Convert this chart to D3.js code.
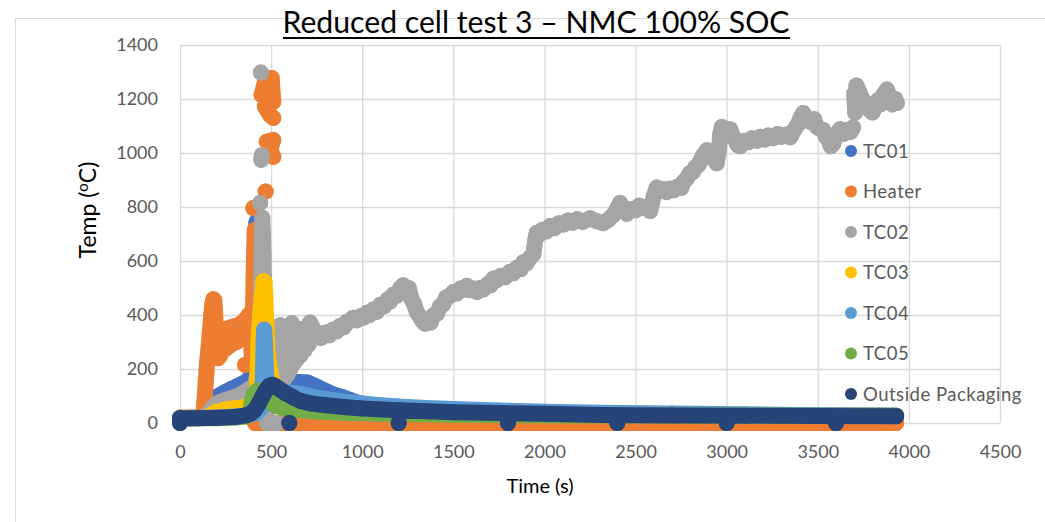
<!DOCTYPE html>
<html>
<head>
<meta charset="utf-8">
<title>Reduced cell test 3</title>
<script src="https://d3js.org/d3.v7.min.js"></script>
<style>
  body { margin: 0; background: #fff; }
  text { font-family: Lato, "Open Sans", sans-serif; }
</style>
</head>
<body>
<div id="chart"></div>
<script>
// series, in Excel drawing order
const seriesNames = ['TC01', 'Heater', 'TC02', 'TC03', 'TC04', 'TC05', 'Outside Packaging'];
const seriesColors = ['#4472C4', '#ED7D31', '#A5A5A5', '#FFC000', '#5B9BD5', '#70AD47', '#264478'];

const xTicks = [0, 500, 1000, 1500, 2000, 2500, 3000, 3500, 4000, 4500];
const yTicks = [0, 200, 400, 600, 800, 1000, 1200, 1400];

// [time (s), temp (C)]; null breaks a run of markers
const tc01 = [[0,18],[60,18],[120,19],[140,26],[155,50],[170,72],[185,88],[200,96],[225,106],[250,115],[280,125],[310,135],[350,148],[380,159],[392,190],
  [398,260],[403,380],[407,500],[411,600],[414,660],[417,720],[420,745],[424,690],[428,560],[432,420],[436,300],[441,200],[448,140],[460,125],
  [480,124],[520,132],[560,140],[600,146],[650,152],[700,150],[750,135],[800,118],[840,106],[890,96],[930,86],[970,76],[1000,70],[1100,62],
  [1200,55],[1400,47],[1600,42],[1800,38],[2000,35],[2300,32],[2700,30],[3100,29],[3500,28],[3930,27]];

const heater = [[0,20],[60,20],[120,21],[128,35],[133,70],[137,110],[141,150],[145,190],[149,225],[153,255],[158,290],[163,330],[168,370],
  [173,410],[178,440],[183,458],[188,455],[192,420],[196,360],[200,250],[205,340],[210,240],[215,330],[220,250],[225,335],[232,265],
  [240,345],[250,275],[260,350],[270,285],[280,355],[290,295],[300,358],[310,300],[320,362],[330,310],[340,372],[350,322],[360,385],
  [370,340],[378,400],[385,380],[390,300],[395,225],[398,300],[401,420],[404,540],[407,640],[410,715],null,
  [402,796],null,
  [357,215],null,
  [470,857],null,
  [448,1215],[466,1263],[503,1278],[512,1190],[494,1209],[466,1172],[494,1141],[512,1130],null,
  [476,1042],[512,1048],[494,1011],[512,986],[480,1000],null,
  [412,0],[600,0],[1000,0],[1500,0],[2000,0],[2500,0],[3000,0],[3500,0],[3930,0]];

const tc02 = [[0,18],[60,18],[120,19],[140,24],[160,40],[180,58],[200,71],[225,79],[250,85],[280,92],[310,98],[350,112],[380,126],[410,140],
  [425,180],[435,300],[445,500],[450,700],[452,760],[455,700],[458,620],[461,520],[463,420],[465,320],[467,230],[469,150],[471,80],[474,20],
  [478,0],[505,0],[532,0],null,
  [440,815],null,
  [446,975],[449,992],null,
  [444,1298],null,
  [484,80],[490,250],[496,105],[503,290],[510,115],[518,310],[526,125],[534,330],[542,135],[550,362],[558,150],[566,320],[574,165],[582,340],
  [590,180],[598,360],[606,200],[614,370],[622,220],[630,340],[640,235],[650,320],[660,250],[672,348],[684,270],[695,352],[705,290],
  [713,372],[730,350],[745,338],[760,330],[772,315],[786,322],[800,335],[820,325],[840,345],[860,340],[880,360],[900,355],[915,375],
  [933,378],[950,390],[970,380],[990,395],[1006,390],[1025,408],[1040,400],[1060,420],[1080,412],[1100,438],[1120,432],[1140,458],
  [1153,450],[1170,475],[1190,472],[1210,500],[1225,510],[1240,495],[1255,500],[1270,460],[1285,440],[1300,410],[1315,395],[1330,378],
  [1345,368],[1360,380],[1375,372],[1390,398],[1410,405],[1427,432],[1445,440],[1460,465],[1480,470],[1500,485],[1520,480],[1540,498],
  [1560,495],[1574,508],[1590,492],[1610,498],[1630,485],[1647,500],[1665,495],[1690,515],[1705,510],[1720,535],[1740,530],[1760,545],
  [1785,540],[1811,560],[1830,555],[1850,575],[1870,570],[1884,595],[1900,590],[1920,612],[1939,625],[1950,680],[1958,705],[1975,700],
  [1990,715],[2010,710],[2031,730],[2055,722],[2080,740],[2105,735],[2130,750],[2155,742],[2180,755],[2210,745],[2250,758],[2285,748],
  [2322,740],[2350,752],[2380,772],[2400,795],[2415,815],[2435,790],[2452,775],[2475,792],[2500,788],[2520,805],[2543,798],[2565,795],
  [2580,785],[2600,840],[2616,872],[2635,858],[2650,866],[2670,855],[2689,868],[2710,862],[2730,875],[2750,870],[2762,892],[2780,905],
  [2799,926],[2815,930],[2830,948],[2845,955],[2854,968],[2870,990],[2891,1010],[2905,995],[2920,985],[2935,975],[2945,962],[2955,1000],
  [2965,1070],[2973,1096],[2990,1090],[3005,1075],[3019,1088],[3035,1060],[3050,1045],[3060,1030],[3074,1025],[3095,1045],[3120,1040],
  [3140,1055],[3165,1045],[3185,1060],[3210,1050],[3230,1065],[3256,1055],[3280,1070],[3300,1060],[3325,1068],[3348,1058],[3370,1085],
  [3390,1105],[3405,1130],[3420,1148],[3440,1125],[3460,1115],[3480,1125],[3494,1098],[3510,1090],[3530,1085],[3545,1060],[3560,1050],
  [3572,1025],[3585,1035],[3600,1065],[3622,1088],[3640,1070],[3660,1085],[3680,1078],[3694,1095],null,
  [3700,1220],[3705,1150],[3712,1250],[3725,1230],[3740,1205],[3755,1190],[3770,1175],[3785,1160],[3800,1150],[3815,1170],[3830,1195],
  [3845,1180],[3860,1215],[3879,1235],[3895,1210],[3910,1180],[3925,1200],[3934,1185]];

const tc03 = [[0,18],[100,18],[140,20],[170,30],[200,41],[250,50],[310,56],[350,58],[385,60],[420,62],[424,150],[428,250],[432,330],[440,400],
  [450,470],[458,525],[464,520],[468,470],[472,400],[476,345],[483,245],[495,190],[510,148],[530,125],[560,108],[600,96],[660,85],[750,75],
  [900,62],[1100,52],[1400,42],[1800,36],[2300,31],[2800,29],[3400,27],[3930,26]];

const tc04 = [[0,18],[200,20],[300,24],[380,30],[420,38],[450,60],[456,200],[459,300],[462,345],[466,300],[470,220],[475,160],[485,135],
  [510,125],[560,118],[610,112],[660,108],[730,96],[800,88],[900,79],[1000,72],[1100,66],[1200,61],[1350,56],[1500,52],[1750,46],[2000,42],
  [2300,38],[2700,35],[3100,32],[3500,29],[3930,27]];

const tc05 = [[0,18],[200,18],[300,20],[360,24],[385,40],[395,80],[405,105],[420,118],[440,120],[460,115],[480,95],[500,75],[530,62],[580,54],
  [650,48],[750,43],[900,38],[1100,34],[1500,31],[2000,29],[2500,28],[3000,28],[3500,27],[3930,27]];

const outside = [[0,18],[100,18],[200,19],[300,22],[360,28],[390,36],[410,48],[430,68],[450,95],[470,120],[490,138],[505,142],[520,138],
  [540,128],[580,110],[620,95],[660,82],[720,72],[800,66],[900,59],[1000,54],[1200,47],[1500,40],[1756,37],[2000,34],[2305,30],[2700,28],
  [3100,27],[3500,26],[3930,25],null,
  [0,0],null,[600,0],null,[1200,0],null,[1800,0],null,[2400,0],null,[3000,0],null,[3600,0]];

const seriesData = [tc01, heater, tc02, tc03, tc04, tc05, outside];

const width = 1045, height = 522;
const margin = { left: 180, right: 45, top: 45, bottom: 99 };
const R = 8;

const svg = d3.select('#chart').append('svg')
  .attr('width', width)
  .attr('height', height);

// chart area border
svg.append('rect')
  .attr('x', 15.5).attr('y', 18.5)
  .attr('width', 1100).attr('height', 600)
  .attr('fill', 'none').attr('stroke', '#d9d9d9');

const x = d3.scaleLinear().domain([0, 4500]).range([margin.left, width - margin.right]);
const y = d3.scaleLinear().domain([0, 1400]).range([height - margin.bottom, margin.top]);

// gridlines
svg.append('g')
  .attr('transform', `translate(0,${y(0)})`)
  .call(d3.axisBottom(x).tickValues(xTicks).tickSize(-(y(0) - y(1400))).tickFormat(''))
  .call(g => g.select('.domain').remove())
  .call(g => g.selectAll('line').attr('stroke', '#d9d9d9').attr('stroke-width', 1.3));

svg.append('g')
  .attr('transform', `translate(${x(0)},0)`)
  .call(d3.axisLeft(y).tickValues(yTicks).tickSize(-(x(4500) - x(0))).tickFormat(''))
  .call(g => g.select('.domain').remove())
  .call(g => g.selectAll('line').attr('stroke', '#d9d9d9').attr('stroke-width', 1.3));

// tick labels
svg.append('g')
  .attr('transform', `translate(0,${y(0)})`)
  .call(d3.axisBottom(x).tickValues(xTicks).tickFormat(d3.format('d')).tickSize(0).tickPadding(22))
  .call(g => g.select('.domain').remove())
  .call(g => g.selectAll('text').attr('font-size', 18).attr('fill', '#595959').attr('font-family', 'Lato'));

svg.append('g')
  .attr('transform', `translate(${x(0)},0)`)
  .call(d3.axisLeft(y).tickValues(yTicks).tickFormat(d3.format('d')).tickSize(0).tickPadding(22))
  .call(g => g.select('.domain').remove())
  .call(g => g.selectAll('text').attr('font-size', 18).attr('fill', '#595959').attr('font-family', 'Lato'));

// series: dense markers, so each run is also stroked at marker width
const line = d3.line()
  .defined(d => d !== null)
  .x(d => x(d[0]))
  .y(d => y(d[1]));

const plot = svg.append('g');
seriesData.forEach((data, i) => {
  const sg = plot.append('g');
  sg.append('path')
    .attr('d', line(data))
    .attr('fill', 'none')
    .attr('stroke', seriesColors[i])
    .attr('stroke-width', 2 * R)
    .attr('stroke-linecap', 'round')
    .attr('stroke-linejoin', 'round');
  sg.selectAll('circle')
    .data(data.filter(d => d !== null))
    .join('circle')
    .attr('cx', d => x(d[0]))
    .attr('cy', d => y(d[1]))
    .attr('r', R)
    .attr('fill', seriesColors[i]);
});

// legend
const legend = svg.append('g');
seriesNames.forEach((name, i) => {
  const ly = 151 + i * 40.5;
  legend.append('circle')
    .attr('cx', 851).attr('cy', ly).attr('r', 6)
    .attr('fill', seriesColors[i]);
  legend.append('text')
    .attr('x', 863).attr('y', ly)
    .attr('dy', '0.36em')
    .attr('font-family', '"Open Sans"')
    .attr('font-size', 18.5)
    .attr('letter-spacing', 0.5)
    .attr('fill', '#595959')
    .text(name);
});

// title
svg.append('text')
  .attr('x', 536).attr('y', 33)
  .attr('text-anchor', 'middle')
  .attr('font-size', 30)
  .attr('fill', '#000')
  .attr('textLength', 507)
  .attr('lengthAdjust', 'spacingAndGlyphs')
  .text('Reduced cell test 3 – NMC 100% SOC');
svg.append('line')
  .attr('x1', 283).attr('x2', 790)
  .attr('y1', 38).attr('y2', 38)
  .attr('stroke', '#000').attr('stroke-width', 2);

// axis titles
svg.append('text')
  .attr('x', 540).attr('y', 493)
  .attr('text-anchor', 'middle')
  .attr('font-size', 20)
  .attr('fill', '#000')
  .text('Time (s)');

const yTitle = svg.append('text')
  .attr('transform', 'translate(96,210) rotate(-90)')
  .attr('text-anchor', 'middle')
  .attr('font-size', 23)
  .attr('fill', '#000');
yTitle.append('tspan').text('Temp (');
yTitle.append('tspan').attr('font-size', 15).attr('dy', -8).text('o');
yTitle.append('tspan').attr('dy', 8).text('C)');
</script>
</body>
</html>
